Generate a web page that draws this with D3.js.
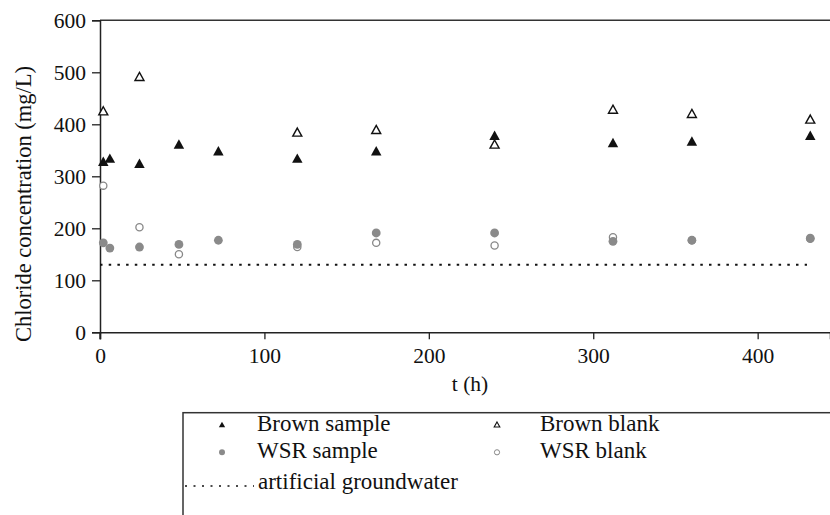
<!DOCTYPE html>
<html>
<head>
<meta charset="utf-8">
<script src="https://cdn.jsdelivr.net/npm/d3@7"></script>
<style>
  html, body { margin: 0; padding: 0; background: #fff; }
  svg { display: block; }
  text { font-family: "Liberation Serif", "Times New Roman", serif; fill: #111; }
</style>
</head>
<body>
<svg id="chart" width="830" height="515"></svg>
<script>
// ---- data ----
const brownSampleT = [2, 6, 24, 48, 72, 120, 168, 240, 312, 360, 432];
const brownSampleV = [329, 335, 325, 362, 349, 335, 349, 379, 365, 368, 379];
const brownBlankT = [2, 24, 120, 168, 240, 312, 360, 432];
const brownBlankV = [426, 492, 385, 390, 362, 429, 421, 410];
const wsrSampleT = [2, 6, 24, 48, 72, 120, 168, 240, 312, 360, 432];
const wsrSampleV = [172, 162, 164, 169, 177, 169, 191, 191, 175, 177, 181];
const wsrBlankT = [2, 24, 48, 120, 168, 240, 312, 360, 432];
const wsrBlankV = [282, 202, 150, 164, 172, 167, 183, 177, 180];
const groundwaterT = [0, 430];
const groundwaterV = [130, 130];
const xTicks = [0, 100, 200, 300, 400];
const yTicks = [0, 100, 200, 300, 400, 500, 600];
const legendLabels = ["Brown sample", "Brown blank", "WSR sample", "WSR blank", "artificial groundwater"];

(function () {
const svg = d3.select("#chart");
const pL = 100, pR = 830, pT = 20.3, pB = 332.3;
const x = d3.scaleLinear().domain([0, 444]).range([pL, pR]);
const y = d3.scaleLinear().domain([0, 600]).range([pB, pT]);

// triangle symbol centered on its bounding box
const triType = {
  draw(ctx, size) {
    const s = Math.sqrt(size);
    const h = s * 0.9;
    ctx.moveTo(0, -h / 2);
    ctx.lineTo(s / 2, h / 2);
    ctx.lineTo(-s / 2, h / 2);
    ctx.closePath();
  }
};
const tri = size => d3.symbol().type(triType).size(size)();

// top border
svg.append("line")
  .attr("x1", pL).attr("x2", pR).attr("y1", y(600)).attr("y2", y(600))
  .attr("stroke", "#333").attr("stroke-width", 1.5);

// axes
const yAxis = svg.append("g").attr("transform", `translate(${pL},0)`)
  .call(d3.axisLeft(y).tickValues(yTicks).tickSize(8).tickPadding(6).tickFormat(d3.format("d")));
const xAxis = svg.append("g").attr("transform", `translate(0,${pB})`)
  .call(d3.axisBottom(x).tickValues(xTicks).tickSize(7).tickPadding(8).tickFormat(d3.format("d")));
[xAxis, yAxis].forEach(g => {
  g.select(".domain").attr("stroke", "#222").attr("stroke-width", 1.5);
  g.selectAll(".tick line").attr("stroke", "#222").attr("stroke-width", 1.3);
  g.selectAll("text").style("font-family", "Liberation Serif").style("font-size", "21.5px").attr("fill", "#111");
});
svg.append("line").attr("x1", pL).attr("x2", pL).attr("y1", pB).attr("y2", pB + 7)
  .attr("stroke", "#222").attr("stroke-width", 1.3);

// axis titles
svg.append("text").attr("x", 470).attr("y", 391).attr("text-anchor", "middle")
  .style("font-size", "21.5px").text("t (h)");
svg.append("text").attr("transform", `translate(31,204) rotate(-90)`)
  .attr("text-anchor", "middle").style("font-size", "22.5px").text("Chloride concentration (mg/L)");

// groundwater dotted line
const line = d3.line().x(d => x(d[0])).y(d => y(d[1]));
svg.append("path").datum(groundwaterT.map((t, i) => [t, groundwaterV[i]]))
  .attr("d", line).attr("fill", "none").attr("stroke", "#111")
  .attr("stroke-width", 2).attr("stroke-dasharray", "2.5,6.2");

const zip = (T, V) => T.map((t, i) => [t, V[i]]);

svg.append("g").selectAll("circle").data(zip(wsrBlankT, wsrBlankV)).join("circle")
  .attr("cx", d => x(d[0])).attr("cy", d => y(d[1])).attr("r", 3.6)
  .attr("fill", "#fff").attr("stroke", "#888").attr("stroke-width", 1.3);
svg.append("g").selectAll("circle").data(zip(wsrSampleT, wsrSampleV)).join("circle")
  .attr("cx", d => x(d[0])).attr("cy", d => y(d[1])).attr("r", 4.4)
  .attr("fill", "#8a8a8a");
svg.append("g").selectAll("path").data(zip(brownBlankT, brownBlankV)).join("path")
  .attr("transform", d => `translate(${x(d[0])},${y(d[1])})`)
  .attr("d", tri(81)).attr("fill", "#fff").attr("stroke", "#111").attr("stroke-width", 1.4);
svg.append("g").selectAll("path").data(zip(brownSampleT, brownSampleV)).join("path")
  .attr("transform", d => `translate(${x(d[0])},${y(d[1])})`)
  .attr("d", tri(110)).attr("fill", "#111");

// legend
const lg = svg.append("g");
lg.append("rect").attr("x", 183).attr("y", 412.7).attr("width", 720).attr("height", 200)
  .attr("fill", "none").attr("stroke", "#333").attr("stroke-width", 1.5);
const row = [430.5, 458.3, 489];
const col = [222, 497];
const tx = [257, 540];
lg.append("path").attr("transform", `translate(${col[0]},${row[0] - 6})`).attr("d", tri(40)).attr("fill", "#111");
lg.append("path").attr("transform", `translate(${col[1]},${row[0] - 6})`).attr("d", tri(32))
  .attr("fill", "#fff").attr("stroke", "#111").attr("stroke-width", 1.1);
lg.append("circle").attr("cx", col[0]).attr("cy", row[1] - 6).attr("r", 3).attr("fill", "#8a8a8a");
lg.append("circle").attr("cx", col[1]).attr("cy", row[1] - 6).attr("r", 2.6)
  .attr("fill", "#fff").attr("stroke", "#888").attr("stroke-width", 1);
lg.append("line").attr("x1", 185).attr("x2", 254).attr("y1", row[2] - 3).attr("y2", row[2] - 3)
  .attr("stroke", "#111").attr("stroke-width", 1.6).attr("stroke-dasharray", "2,6.5");
const lpos = [[tx[0], row[0]], [tx[1], row[0]], [tx[0], row[1]], [tx[1], row[1]], [258, row[2]]];
lg.selectAll("text.lab").data(legendLabels).join("text").attr("class", "lab")
  .attr("x", (d, i) => lpos[i][0]).attr("y", (d, i) => lpos[i][1])
  .style("font-size", "23px").text(d => d);
})();
</script>
</body>
</html>
